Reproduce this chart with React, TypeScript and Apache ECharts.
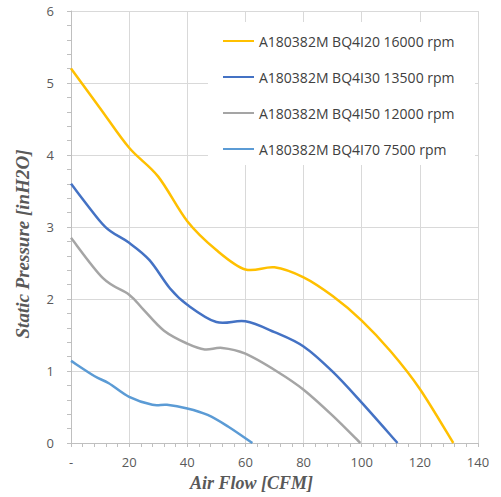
import React, { useEffect, useRef } from "react";
import * as echarts from "echarts";

const seriesNames = [
  "A180382M BQ4I20 16000 rpm",
  "A180382M BQ4I30 13500 rpm",
  "A180382M BQ4I50 12000 rpm",
  "A180382M BQ4I70 7500 rpm",
];
const seriesColors = ["#FFC000", "#4472C4", "#A5A5A5", "#5B9BD5"];

const flow16000 = [0, 10, 20, 30, 40, 50, 60, 70, 80, 90, 100, 110, 120, 131.5];
const pres16000 = [5.2, 4.65, 4.1, 3.7, 3.08, 2.68, 2.41, 2.44, 2.3, 2.04, 1.7, 1.27, 0.75, 0];

const flow13500 = [0, 10, 14, 20, 27, 34, 40, 50, 60, 70, 80, 90, 100, 112.3];
const pres13500 = [3.6, 3.08, 2.93, 2.78, 2.54, 2.15, 1.92, 1.68, 1.69, 1.54, 1.34, 0.99, 0.56, 0];

const flow12000 = [0, 11, 20, 25, 32, 40, 46, 52, 60, 71, 80, 90, 99.5];
const pres12000 = [2.85, 2.29, 2.06, 1.85, 1.56, 1.38, 1.3, 1.32, 1.24, 0.99, 0.74, 0.38, 0];

const flow7500 = [0, 8, 13, 20, 28, 33, 40, 47, 54, 62.4];
const pres7500 = [1.14, 0.93, 0.83, 0.64, 0.53, 0.53, 0.48, 0.39, 0.23, 0];

const xTicks = { min: 0, max: 140, interval: 20 };
const yTicks = { min: 0, max: 6, interval: 1 };

const xName = "Air Flow [CFM]";
const yName = "Static Pressure [inH2O]";

function pairs(xs: number[], ys: number[]) {
  return xs.map((x, i) => [x, ys[i]]);
}

// Catmull-Rom spline through screen points (similar to Excel smoothed lines)
function splinePath(pts: number[][]): string {
  if (pts.length === 0) return "";
  let d = `M${pts[0][0]},${pts[0][1]}`;
  for (let i = 0; i < pts.length - 1; i++) {
    const p0 = pts[i - 1] || pts[i];
    const p1 = pts[i];
    const p2 = pts[i + 1];
    const p3 = pts[i + 2] || pts[i + 1];
    const c1x = p1[0] + (p2[0] - p0[0]) / 6;
    const c1y = p1[1] + (p2[1] - p0[1]) / 6;
    const c2x = p2[0] - (p3[0] - p1[0]) / 6;
    const c2y = p2[1] - (p3[1] - p1[1]) / 6;
    d += ` C${c1x},${c1y} ${c2x},${c2y} ${p2[0]},${p2[1]}`;
  }
  return d;
}

export default function App() {
  const ref = useRef<HTMLDivElement>(null);
  useEffect(() => {
    if (!ref.current) return;
    const chart = echarts.init(ref.current, null, { renderer: "svg" });
    const allData = [
      pairs(flow16000, pres16000),
      pairs(flow13500, pres13500),
      pairs(flow12000, pres12000),
      pairs(flow7500, pres7500),
    ];
    const axisNameStyle = {
      fontFamily: "Liberation Serif",
      fontStyle: "italic",
      fontWeight: "bold",
      color: "#595959",
    };
    chart.setOption({
      animation: false,
      backgroundColor: "#ffffff",
      grid: { left: 71, right: 23, top: 11, bottom: 54 },
      graphic: [
        {
          type: "rect",
          left: 208,
          top: 22,
          shape: { width: 267, height: 143 },
          style: { fill: "#ffffff" },
          z: 1,
        },
      ],
      legend: {
        orient: "vertical",
        left: 223,
        top: 34,
        itemWidth: 31,
        itemHeight: 14,
        itemGap: 22,
        padding: 0,
        icon: "path://M0,6 L31,6 L31,8 L0,8 Z",
        textStyle: { fontFamily: "Open Sans", fontSize: 14, color: "#404040" },
        data: seriesNames,
      },
      xAxis: {
        type: "value",
        min: xTicks.min,
        max: xTicks.max,
        interval: xTicks.interval,
        name: xName,
        nameLocation: "middle",
        nameGap: 31,
        nameTextStyle: { ...axisNameStyle, fontSize: 18, padding: [0, 46, 0, 0] },
        axisLine: { show: true, lineStyle: { color: "#bfbfbf", width: 1 } },
        axisTick: { show: true, length: 4, lineStyle: { color: "#bfbfbf" } },
        minorTick: { show: true, splitNumber: 5, length: 4, lineStyle: { color: "#bfbfbf" } },
        splitLine: { show: true, lineStyle: { color: "#d9d9d9", width: 1 } },
        axisLabel: {
          margin: 12,
          fontFamily: "Open Sans",
          fontSize: 13,
          color: "#595959",
          formatter: (v: number) => (v === 0 ? "-" : String(v)),
        },
      },
      yAxis: {
        type: "value",
        min: yTicks.min,
        max: yTicks.max,
        interval: yTicks.interval,
        name: yName,
        nameLocation: "middle",
        nameGap: 39,
        nameTextStyle: { ...axisNameStyle, fontSize: 19, padding: [0, 34, 0, 0] },
        axisLine: { show: true, lineStyle: { color: "#bfbfbf", width: 1 } },
        axisTick: { show: true, length: 4, lineStyle: { color: "#bfbfbf" } },
        minorTick: { show: true, splitNumber: 5, length: 4, lineStyle: { color: "#bfbfbf" } },
        splitLine: { show: true, lineStyle: { color: "#d9d9d9", width: 1 } },
        axisLabel: {
          margin: 17,
          fontFamily: "Open Sans",
          fontSize: 13,
          color: "#595959",
        },
      },
      series: seriesNames.map((name, i) => ({
        name,
        type: "custom",
        data: allData[i],
        encode: { x: 0, y: 1 },
        itemStyle: { color: seriesColors[i] },
        silent: true,
        z: 3,
        renderItem: (params: any, api: any) => {
          if (params.dataIndex !== 0) return null;
          const pts = allData[i].map((p) => api.coord(p));
          return {
            type: "path",
            shape: { pathData: splinePath(pts) },
            style: {
              fill: "none",
              stroke: seriesColors[i],
              lineWidth: 2.5,
              lineJoin: "round",
              lineCap: "butt",
            },
          };
        },
      })),
    });
    return () => chart.dispose();
  }, []);
  return <div ref={ref} style={{ width: 501, height: 497, position: "absolute", left: 0, top: 0 }} />;
}
